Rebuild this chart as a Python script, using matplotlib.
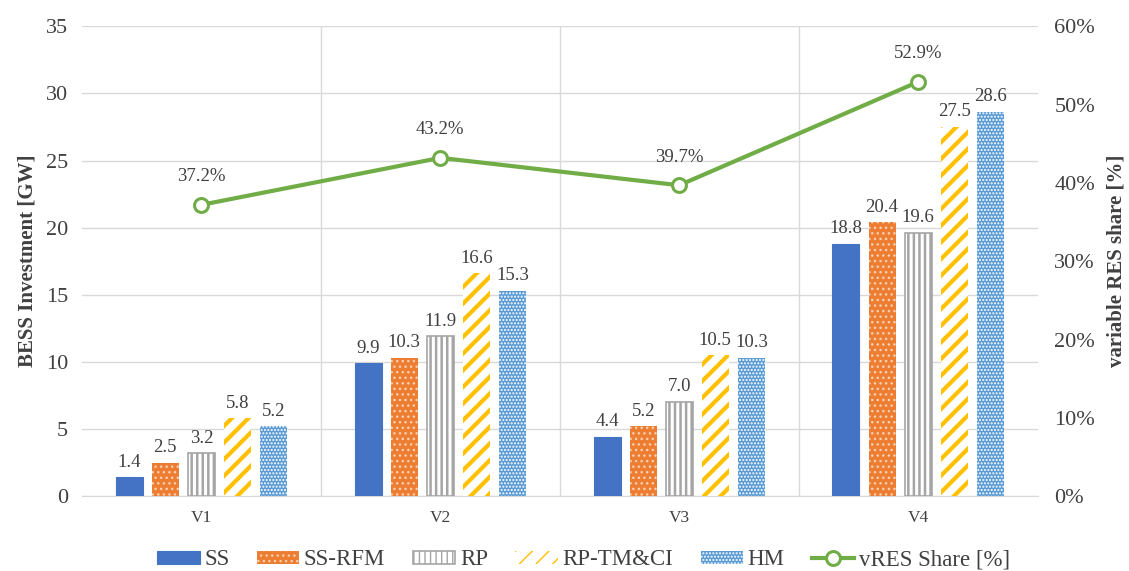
import numpy as np
import matplotlib as mpl
import matplotlib.pyplot as plt
from matplotlib.ticker import FuncFormatter, MultipleLocator

plt.rcParams['font.family'] = ['Liberation Serif', 'DejaVu Serif']

categories = ['V1', 'V2', 'V3', 'V4']
series_names = ['SS', 'SS-RFM', 'RP', 'RP-TM&CI', 'HM']
ss = [1.4, 9.9, 4.4, 18.8]
ss_rfm = [2.5, 10.3, 5.2, 20.4]
rp = [3.2, 11.9, 7.0, 19.6]
rp_tmci = [5.8, 16.6, 10.5, 27.5]
hm = [5.2, 15.3, 10.3, 28.6]
vres_share = [37.2, 43.2, 39.7, 52.9]

series_values = [ss, ss_rfm, rp, rp_tmci, hm]
styles = [
    dict(facecolor='#4472C4', edgecolor='#4472C4', hatch=None, hlw=1.0, lw=0.8),
    dict(facecolor='#ED7D31', edgecolor='#F8D0B4', hatch='...', hlw=1.0, lw=0.0),
    dict(facecolor='white', edgecolor='#A5A5A5', hatch='|||', hlw=1.8, lw=1.2),
    dict(facecolor='white', edgecolor='#FFC000', hatch='//', hlw=3.0, lw=0.0),
    dict(facecolor='#5B9BD5', edgecolor='white', hatch='.....', hlw=1.0, lw=0.0),
]

fig = plt.figure(figsize=(11.29, 5.71), dpi=100)
ax = fig.add_axes([0.0726, 0.131, 0.8464, 0.823])
ax2 = ax.twinx()

x = np.arange(len(categories))
n = len(series_names)
bar_w = 0.113
step = 0.151

handles = []
for i, (name, vals, st) in enumerate(zip(series_names, series_values, styles)):
    pos = x + (i - (n - 1) / 2) * step
    with mpl.rc_context({'hatch.linewidth': st['hlw']}):
        bars = ax.bar(pos, vals, width=bar_w, facecolor=st['facecolor'],
                      edgecolor=st['edgecolor'], hatch=st['hatch'],
                      linewidth=st['lw'], label=name, zorder=3)
    handles.append(bars)
    for p, v in zip(pos, vals):
        ax.text(p, v + 0.5, f'{v:.1f}', ha='center', va='bottom',
                fontsize=13.5, color='#404040', zorder=4)

ax.set_xlim(-0.5, len(categories) - 0.5)
ax.set_ylim(0, 35)
ax.yaxis.set_major_locator(MultipleLocator(5))
ax.set_xticks(x)
ax.set_xticklabels(categories)
ax.tick_params(axis='x', length=0, labelsize=12.5, colors='#404040', pad=10)
ax.tick_params(axis='y', length=0, labelsize=16, colors='#404040', pad=10)
ax.grid(axis='y', color='#D9D9D9', linewidth=1.0, zorder=0)
for b in np.arange(0.5, len(categories) - 0.5, 1.0):
    ax.axvline(b, color='#D9D9D9', linewidth=1.0, zorder=0)
for s in ['top', 'right', 'left']:
    ax.spines[s].set_visible(False)
ax.spines['bottom'].set_color('#D9D9D9')
ax.set_ylabel('BESS Investment [GW]', fontsize=15, fontweight='bold',
              color='#404040', labelpad=6)

line, = ax2.plot(x, vres_share, color='#70AD47', linewidth=3, marker='o',
                 markersize=10, markerfacecolor='white', markeredgecolor='#70AD47',
                 markeredgewidth=2.2, label='vRES Share [%]', zorder=5)
for xi, v in zip(x, vres_share):
    ax2.text(xi, v + 2.5, f'{v:.1f}%', ha='center', va='bottom',
             fontsize=13.5, color='#404040')
ax2.set_ylim(0, 60)
ax2.yaxis.set_major_locator(MultipleLocator(10))
ax2.yaxis.set_major_formatter(FuncFormatter(lambda v, p: f'{v:.0f}%'))
ax2.tick_params(axis='y', length=0, labelsize=16, colors='#404040', pad=12)
for s in ['top', 'right', 'left', 'bottom']:
    ax2.spines[s].set_visible(False)
ax2.set_ylabel('variable RES share [%]', fontsize=15, fontweight='bold',
               color='#404040', labelpad=8)

fig.legend(handles + [line], series_names + ['vRES Share [%]'],
           loc='lower center', bbox_to_anchor=(0.517, -0.035), ncol=6,
           frameon=False, fontsize=16.5, handlelength=1.85, handleheight=0.5,
           columnspacing=1.2, handletextpad=0.2, labelcolor='#404040')

fig.savefig('out.png', dpi=100)
